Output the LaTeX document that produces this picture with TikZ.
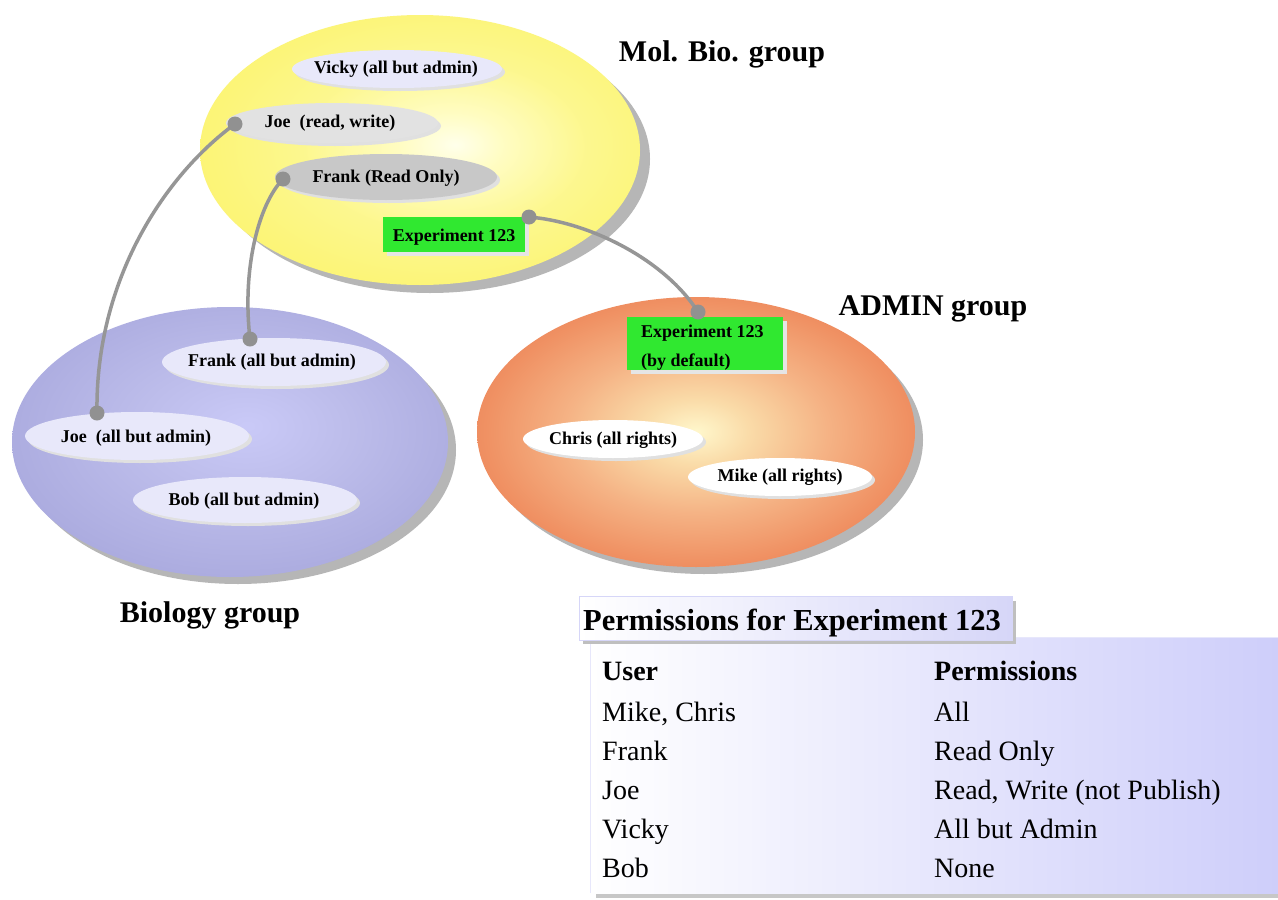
\documentclass[tikz,border=0pt]{standalone}
\usepackage{fontspec}
\setmainfont{Liberation Serif}
\usetikzlibrary{shapes.geometric}
\definecolor{shadowgray}{RGB}{182,182,182}
\definecolor{conngray}{RGB}{150,150,150}
\definecolor{dotgray}{RGB}{145,145,145}
\definecolor{boxgreen}{RGB}{48,232,48}
\definecolor{lavA}{RGB}{232,232,250}
\definecolor{grayA}{RGB}{226,226,226}
\definecolor{grayB}{RGB}{200,200,200}
\definecolor{lavTitle}{RGB}{214,214,248}
\definecolor{lavBody}{RGB}{206,206,250}
\pgfdeclareradialshading{yelshade}{\pgfpoint{4bp}{1bp}}{rgb(0bp)=(1,1,0.92); rgb(6bp)=(1,0.99,0.76); rgb(16bp)=(0.99,0.97,0.56); rgb(26bp)=(0.99,0.96,0.47); rgb(33bp)=(0.99,0.95,0.44); rgb(55bp)=(0.99,0.95,0.44)}
\pgfdeclareradialshading{blushade}{\pgfpoint{2bp}{3bp}}{rgb(0bp)=(0.79,0.79,0.97); rgb(12bp)=(0.74,0.74,0.92); rgb(32bp)=(0.65,0.65,0.86); rgb(55bp)=(0.65,0.65,0.86)}
\pgfdeclareradialshading{orashade}{\pgfpoint{0bp}{0bp}}{rgb(0bp)=(1,0.97,0.8); rgb(6bp)=(0.98,0.86,0.66); rgb(15bp)=(0.96,0.7,0.52); rgb(24bp)=(0.94,0.57,0.39); rgb(32bp)=(0.92,0.47,0.31); rgb(55bp)=(0.92,0.46,0.3)}
\tikzset{
  grpshadow/.style={fill=shadowgray},
  subshadow/.style={fill=black!12},
  sublabel/.style={font=\fontsize{18}{20}\selectfont\bfseries, inner sep=0pt},
  grplabel/.style={font=\fontsize{30}{32}\selectfont\bfseries, inner sep=0pt},
  conn/.style={draw=conngray, line width=3.5pt},
  dotnode/.style={circle, fill=dotgray, minimum size=15pt, inner sep=0pt},
  greenbox/.style={fill=boxgreen},
  tabhead/.style={font=\fontsize{28}{30}\selectfont\bfseries, anchor=base west, inner sep=0pt},
  tabcell/.style={font=\fontsize{28}{30}\selectfont, anchor=base west, inner sep=0pt},
}
\begin{document}
\begin{tikzpicture}[x=1pt,y=-1pt]
\useasboundingbox (0,0) rectangle (1278,900);
\fill[white] (0,0) rectangle (1278,900);

% ---------- Mol. Bio. group ----------
\fill[grpshadow] (430,159) ellipse [x radius=220, y radius=134];
\shade[shading=yelshade] (420,150) ellipse [x radius=220, y radius=135];
\fill[subshadow] (400,72) ellipse [x radius=105, y radius=19];
\fill[lavA] (397,69) ellipse [x radius=105, y radius=19];
\fill[subshadow] (335,126) ellipse [x radius=106, y radius=20];
\fill[grayA] (332,123) ellipse [x radius=106, y radius=20];
\fill[subshadow] (389,180) ellipse [x radius=111, y radius=23];
\fill[grayB] (386,177) ellipse [x radius=111, y radius=23];
\node[sublabel] (vicky) at (396,69) {Vicky (all but admin)};
\node[sublabel] (joeM) at (330,123) {Joe\ \ (read, write)};
\node[sublabel] (frankM) at (386,178) {Frank (Read Only)};
\fill[black!10] (387,221) rectangle (529,256);
\fill[greenbox] (383,217) rectangle (525,252);
\node[sublabel] (expM) at (454,237) {Experiment 123};
\node[grplabel] (molbio) at (722,54) {Mol. Bio. group};

% ---------- Biology group ----------
\fill[grpshadow] (238,450) ellipse [x radius=218, y radius=134];
\shade[shading=blushade] (230,442) ellipse [x radius=218, y radius=135];
\fill[subshadow] (277,365) ellipse [x radius=112, y radius=24];
\fill[lavA] (274,362) ellipse [x radius=112, y radius=24];
\fill[subshadow] (140,439) ellipse [x radius=112, y radius=24];
\fill[lavA] (137,436) ellipse [x radius=112, y radius=24];
\fill[subshadow] (248,503) ellipse [x radius=112, y radius=23];
\fill[lavA] (245,500) ellipse [x radius=112, y radius=23];
\node[sublabel] (frankB) at (272,362) {Frank (all but admin)};
\node[sublabel] (joeB) at (136,438) {Joe\ \ (all but admin)};
\node[sublabel] (bobB) at (244,501) {Bob (all but admin)};
\node[grplabel] (bio) at (210,615) {Biology group};

% ---------- ADMIN group ----------
\fill[grpshadow] (704,440) ellipse [x radius=219, y radius=134];
\shade[shading=orashade] (696,432) ellipse [x radius=219, y radius=135];
\fill[black!10] (631,321) rectangle (787,374);
\fill[greenbox] (627,317) rectangle (783,370);
\node[sublabel, anchor=base west] (expA1) at (641,337) {Experiment 123};
\node[sublabel, anchor=base west] (expA2) at (641,366) {(by default)};
\fill[subshadow] (616,442) ellipse [x radius=90, y radius=19];
\fill[white] (613,439) ellipse [x radius=90, y radius=19];
\fill[subshadow] (783,480) ellipse [x radius=92, y radius=19];
\fill[white] (780,477) ellipse [x radius=92, y radius=19];
\node[sublabel] (chris) at (613,440) {Chris (all rights)};
\node[sublabel] (mike) at (780,477) {Mike (all rights)};
\node[grplabel] (admin) at (933,309) {ADMIN group};

% ---------- connectors ----------
\coordinate (joeDot) at (235,124);
\coordinate (frankDot) at (283,179);
\coordinate (expDot) at (529,217);
\coordinate (joeBDot) at (97,413);
\coordinate (frankBDot) at (250,339);
\coordinate (adminDot) at (698,312);
\draw[conn] (joeDot) .. controls (165,175) and (95,280) .. (joeBDot);
\draw[conn] (frankDot) .. controls (258,205) and (242,270) .. (frankBDot);
\draw[conn] (expDot) .. controls (590,222) and (665,260) .. (adminDot);
\node[dotnode] (d1) at (joeDot) {};
\node[dotnode] (d2) at (frankDot) {};
\node[dotnode] (d3) at (expDot) {};
\node[dotnode] (d4) at (joeBDot) {};
\node[dotnode] (d5) at (frankBDot) {};
\node[dotnode] (d6) at (adminDot) {};

% ---------- Permissions table ----------
\fill[black!22] (596,642) rectangle (1278,898);
\shade[left color=white, right color=lavBody] (590,637) rectangle (1278,893);
\draw[lavTitle!60, line width=1pt] (590,893) -- (590,637) -- (1278,637);
\fill[black!25] (583,601) rectangle (1016,644);
\shade[left color=white, right color=lavTitle] (579,596) rectangle (1012,640);
\draw[lavTitle, line width=1pt] (579,596) rectangle (1012,640);
\node[font=\fontsize{30.5}{32}\selectfont\bfseries, anchor=base west, inner sep=0pt] (ptitle) at (583,630) {Permissions for Experiment 123};
\node[tabhead] (hUser) at (602,680) {User};
\node[tabhead] (hPerm) at (934,680) {Permissions};
\node[tabcell] (u1) at (602,721) {Mike, Chris};
\node[tabcell] (p1) at (934,721) {All};
\node[tabcell] (u2) at (602,760) {Frank};
\node[tabcell] (p2) at (934,760) {Read Only};
\node[tabcell] (u3) at (602,799) {Joe};
\node[tabcell] (p3) at (934,799) {Read, Write (not Publish)};
\node[tabcell] (u4) at (602,838) {Vicky};
\node[tabcell] (p4) at (934,838) {All but Admin};
\node[tabcell] (u5) at (602,877) {Bob};
\node[tabcell] (p5) at (934,877) {None};
\end{tikzpicture}
\end{document}
